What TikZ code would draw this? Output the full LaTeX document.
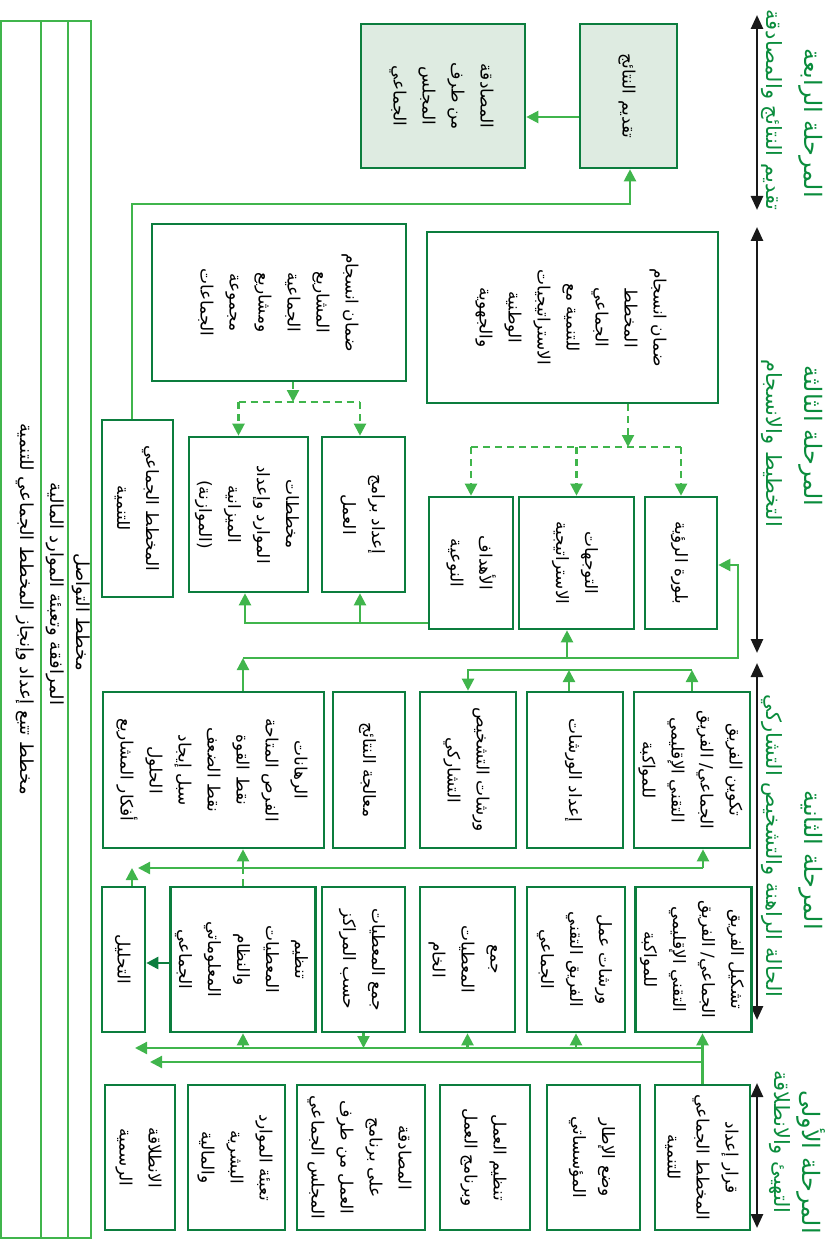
\documentclass[tikz,border=0pt]{standalone}
\usepackage{fontspec}
\usetikzlibrary{arrows.meta}
\newfontfamily\arfont[Script=Arabic]{DejaVu Sans}
\TeXXeTstate=1
\definecolor{boxgreen}{RGB}{12,125,62}
\definecolor{linkgreen}{RGB}{64,181,76}
\definecolor{titlegreen}{RGB}{10,140,60}
\definecolor{resultfill}{RGB}{222,235,225}
\newcommand{\ar}[1]{\beginR #1\endR}
\newcommand{\vcol}[1]{\rotatebox{-90}{\begin{tabular}{@{}c@{}}#1\end{tabular}}}
\tikzset{
  stage/.style={draw=boxgreen, line width=2.6pt, inner sep=0pt, font=\arfont\fontsize{17}{29}\selectfont},
  result/.style={stage, fill=resultfill},
  band/.style={draw=linkgreen, line width=2.6pt, inner sep=0pt, font=\arfont\fontsize{18}{20}\selectfont},
  phasetitle/.style={inner sep=0pt, text=titlegreen, font=\arfont\fontsize{24}{26}\selectfont},
  phasesub/.style={inner sep=0pt, text=titlegreen, font=\arfont\fontsize{21}{24}\selectfont},
  link/.style={draw=linkgreen, line width=2.2pt},
  arr/.style={link, -{Triangle[length=12pt,width=12pt]}},
  dashlink/.style={link, dash pattern=on 7pt off 5pt},
  dasharr/.style={dashlink, -{Triangle[length=12pt,width=12pt]}},
  darkarr/.style={draw=boxgreen, line width=2.6pt, -{Triangle[length=12pt,width=12pt]}},
  span/.style={draw=black!90, line width=2.6pt, {Triangle[length=14pt,width=12pt]}-{Triangle[length=14pt,width=12pt]}}
}
\begin{document}
\begin{tikzpicture}[x=1pt,y=-1pt]
\useasboundingbox (0,0) rectangle (838,1241);

% bandes de suivi
\node[band, minimum width=40, minimum height=1217] (bar1) at (21,629.5) {};
\node[band, minimum width=27, minimum height=1217] (bar2) at (54.5,629.5) {};
\node[band, minimum width=23, minimum height=1217] (bar3) at (79.5,629.5) {};
\node[band, draw=none] (bar1txt) at (24,609) {\vcol{\ar{مخطط تتبع إعداد وإنجاز المخطط الجماعي للتنمية}}};
\node[band, draw=none] (bar2txt) at (54.5,594) {\vcol{\ar{المرافقة وتعبئة الموارد المالية}}};
\node[band, draw=none] (bar3txt) at (80,612) {\vcol{\ar{مخطط التواصل}}};

% phases
\coordinate (p4a) at (757,15);   \coordinate (p4b) at (757,210);
\coordinate (p3a) at (757,227);  \coordinate (p3b) at (757,653);
\coordinate (p2a) at (757,663);  \coordinate (p2b) at (757,1020);
\coordinate (p1a) at (757,1083); \coordinate (p1b) at (757,1228);
\draw[span] (p4a) -- (p4b);
\draw[span] (p3a) -- (p3b);
\draw[span] (p2a) -- (p2b);
\draw[span] (p1a) -- (p1b);
\node[phasetitle] (t4) at (810,123) {\vcol{\ar{المرحلة الرابعة}}};
\node[phasesub] (s4) at (771,110) {\vcol{\ar{تقديم النتائج والمصادقة}}};
\node[phasetitle] (t3) at (810,436) {\vcol{\ar{المرحلة الثالثة}}};
\node[phasesub] (s3) at (771,443) {\vcol{\ar{التخطيط والانسجام}}};
\node[phasetitle] (t2) at (810,860) {\vcol{\ar{المرحلة الثانية}}};
\node[phasesub] (s2) at (771,846) {\vcol{\ar{الحالة الراهنة والتشخيص التشاركي}}};
\node[phasetitle] (t1) at (810,1162) {\vcol{\ar{المرحلة الأولى}}};
\node[phasesub] (s1) at (779,1142) {\vcol{\ar{التهيئ والانطلاقة}}};

% المرحلة الرابعة
\node[result, minimum width=97, minimum height=144] (present) at (628.5,96) {\vcol{\ar{تقديم النتائج}}};
\node[result, minimum width=164, minimum height=144] (ratify) at (443,96) {\vcol{\ar{المصادقة}\\\ar{من طرف}\\\ar{المجلس}\\\ar{الجماعي}}};

% المرحلة الثالثة
\node[stage, minimum width=291, minimum height=171] (coher) at (572.5,317.5) {\vcol{\ar{ضمان انسجام}\\\ar{المخطط}\\\ar{الجماعي}\\\ar{للتنمية مع}\\\ar{الاستراتيجيات}\\\ar{الوطنية}\\\ar{والجهوية}}};
\node[stage, minimum width=72, minimum height=132] (vision) at (681,563) {\vcol{\ar{بلورة الرؤية}}};
\node[stage, minimum width=115, minimum height=132] (orient) at (576.5,563) {\vcol{\ar{التوجهات}\\\ar{الاستراتيجية}}};
\node[stage, minimum width=84, minimum height=132] (goals) at (471,563) {\vcol{\ar{الأهداف}\\\ar{النوعية}}};
\node[stage, minimum width=254, minimum height=157] (cohproj) at (279,302.5) {\vcol{\ar{ضمان انسجام}\\\ar{المشاريع}\\\ar{الجماعية}\\\ar{ومشاريع}\\\ar{مجموعة}\\\ar{الجماعات}}};
\node[stage, minimum width=119, minimum height=155] (budget) at (248.5,514.5) {\vcol{\ar{مخططات}\\\ar{الموارد وإعداد}\\\ar{الميزانية}\\\ar{(الموازنة)}}};
\node[stage, minimum width=83, minimum height=155] (progs) at (363.5,514.5) {\vcol{\ar{إعداد برامج}\\\ar{العمل}}};
\node[stage, minimum width=71, minimum height=177] (pcd) at (137.5,508.5) {\vcol{\ar{المخطط الجماعي}\\\ar{للتنمية}}};

% المرحلة الثانية
\node[stage, minimum width=116, minimum height=156] (team1) at (692,770) {\vcol{\ar{تكوين الفريق}\\\ar{الجماعي/ الفريق}\\\ar{التقني الإقليمي}\\\ar{للمواكبة}}};
\node[stage, minimum width=96, minimum height=156] (prepws) at (575,770) {\vcol{\ar{إعداد الورشات}}};
\node[stage, minimum width=96, minimum height=156] (diagws) at (468,770) {\vcol{\ar{ورشات التشخيص}\\\ar{التشاركي}}};
\node[stage, minimum width=72, minimum height=156] (results) at (369,770) {\vcol{\ar{معالجة النتائج}}};
\node[stage, minimum width=221, minimum height=156] (stakes) at (213.5,770) {\vcol{\ar{الرهانات}\\\ar{الفرص المتاحة}\\\ar{نقط القوة}\\\ar{نقط الضعف}\\\ar{سبل إيجاد}\\\ar{الحلول}\\\ar{أفكار المشاريع}}};
\node[stage, minimum width=113, minimum height=145] (team2) at (693.5,959.5) {\vcol{\ar{تشكيل الفريق}\\\ar{الجماعي/ الفريق}\\\ar{التقني الإقليمي}\\\ar{للمواكبة}}};
\node[stage, minimum width=98, minimum height=145] (teamws) at (576,959.5) {\vcol{\ar{ورشات عمل}\\\ar{الفريق التقني}\\\ar{الجماعي}}};
\node[stage, minimum width=95, minimum height=145] (rawdata) at (467.5,959.5) {\vcol{\ar{جمع}\\\ar{المعطيات}\\\ar{الخام}}};
\node[stage, minimum width=83, minimum height=145] (centers) at (363.5,959.5) {\vcol{\ar{جمع المعطيات}\\\ar{حسب المراكز}}};
\node[stage, minimum width=138, minimum height=145] (organize) at (243,959.5) {\vcol{\ar{تنظيم}\\\ar{المعطيات}\\\ar{والنظام}\\\ar{المعلوماتي}\\\ar{الجماعي}}};
\node[stage, minimum width=43, minimum height=145] (analysis) at (123.5,959.5) {\vcol{\ar{التحليل}}};

% المرحلة الأولى
\node[stage, minimum width=95, minimum height=145] (decision) at (702.5,1157.5) {\vcol{\ar{قرار إعداد}\\\ar{المخطط الجماعي}\\\ar{للتنمية}}};
\node[stage, minimum width=93, minimum height=145] (frame) at (593.5,1157.5) {\vcol{\ar{وضع الإطار}\\\ar{المؤسساتي}}};
\node[stage, minimum width=90, minimum height=145] (orgwork) at (485,1157.5) {\vcol{\ar{تنظيم العمل}\\\ar{وبرنامج العمل}}};
\node[stage, minimum width=128, minimum height=145] (approve) at (361,1157.5) {\vcol{\ar{المصادقة}\\\ar{على برنامج}\\\ar{العمل من طرف}\\\ar{المجلس الجماعي}}};
\node[stage, minimum width=97, minimum height=145] (mobil) at (236.5,1157.5) {\vcol{\ar{تعبئة الموارد}\\\ar{البشرية}\\\ar{والمالية}}};
\node[stage, minimum width=70, minimum height=145] (launch) at (140,1157.5) {\vcol{\ar{الانطلاقة}\\\ar{الرسمية}}};

% روابط المرحلة الرابعة
\draw[arr] ([yshift=-21pt]present.west) -- ([yshift=-21pt]ratify.east);
\draw[arr] ([xshift=-5.5pt]pcd.north) -- ++(0,-215) -| ([xshift=1.5pt]present.south);

% روابط المرحلة الثالثة
\coordinate (splitA) at (628,447);
\coordinate (splitB) at (293,402);
\draw[dasharr] (coher.south -| splitA) -- (splitA);
\draw[dashlink] (goals.north |- splitA) -- (vision.north |- splitA);
\draw[dasharr] (goals.north |- splitA) -- (goals.north);
\draw[dasharr] (orient.north |- splitA) -- (orient.north);
\draw[dasharr] (vision.north |- splitA) -- (vision.north);
\draw[dasharr] (cohproj.south -| splitB) -- (splitB);
\draw[dashlink] ([xshift=-10pt]budget.north |- splitB) -- ([xshift=-3.5pt]progs.north |- splitB);
\draw[dasharr] ([xshift=-10pt]budget.north |- splitB) -- ([xshift=-10pt]budget.north);
\draw[dasharr] ([xshift=-3.5pt]progs.north |- splitB) -- ([xshift=-3.5pt]progs.north);
\coordinate (goalout) at ([yshift=-60pt]goals.west);
\draw[arr] (goalout) -| ([xshift=-3.5pt]budget.south);
\draw[arr] ([xshift=-3.5pt]progs.south |- goalout) -- ([xshift=-3.5pt]progs.south);
\coordinate (feedback) at (738,658);
\draw[arr] ([xshift=29.5pt]stakes.north) -- ([xshift=29.5pt]stakes.north |- feedback);
\draw[arr] ([xshift=29.5pt]stakes.north |- feedback) -- (feedback) |- ([yshift=-2pt]vision.east);
\draw[arr] ([xshift=-9.5pt]orient.south |- feedback) -- ([xshift=-9.5pt]orient.south);

% روابط المرحلة الثانية
\coordinate (wsline) at (468,670);
\coordinate (midline) at (138,868);
\draw[arr] (team1.north) -- (team1.north |- wsline);
\draw[arr] ([xshift=-6pt]prepws.north) -- ([xshift=-6pt]prepws.north |- wsline);
\draw[arr] (team1.north |- wsline) -- (wsline) -- (diagws.north);
\draw[arr] ([xshift=11pt]team1.south |- midline) -- (midline);
\draw[arr] ([xshift=11pt]team1.south |- midline) -- ([xshift=11pt]team1.south);
\draw[arr] ([xshift=29.5pt]stakes.south |- midline) -- ([xshift=29.5pt]stakes.south);
\draw[arr] ([xshift=8.5pt]analysis.north) -- ([xshift=8.5pt]analysis.north |- midline);
\draw[dashlink] (organize.north) -- (organize.north |- midline);
\draw[darkarr] ([yshift=-3.5pt]organize.west) -- ([yshift=-3.5pt]analysis.east);

% روابط المرحلة الأولى
\coordinate (lowA) at (135,1048);
\coordinate (lowB) at (150,1062);
\draw[arr] (decision.north) -- (decision.north |- team2.south);
\draw[arr] (decision.north |- lowA) -- (lowA);
\draw[arr] (decision.north |- lowB) -- (lowB);
\draw[arr] (teamws.south |- lowA) -- (teamws.south);
\draw[arr] (rawdata.south |- lowA) -- (rawdata.south);
\draw[arr] (organize.south |- lowA) -- (organize.south);
\draw[arr] (centers.south) -- (centers.south |- lowA);
\end{tikzpicture}
\end{document}
